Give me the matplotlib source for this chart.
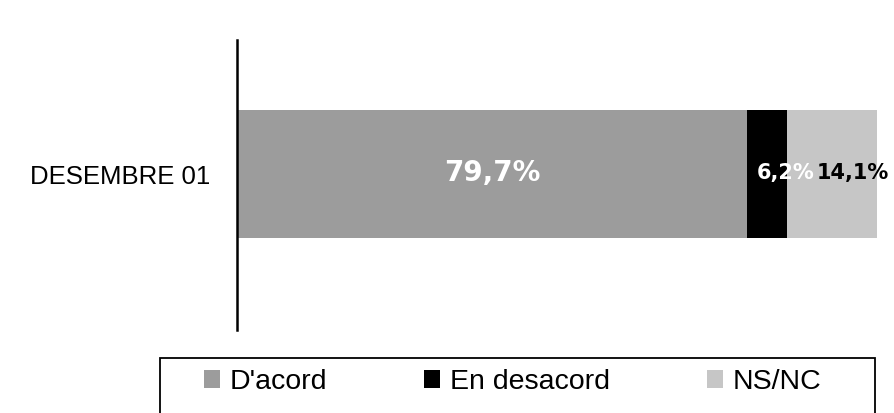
import matplotlib
matplotlib.use("Agg")
import matplotlib.pyplot as plt
from matplotlib.patches import Rectangle

categories = ["DESEMBRE 01"]
series_names = ["D'acord", "En desacord", "NS/NC"]
values = [79.7, 6.2, 14.1]
value_labels = ["79,7%", "6,2%", "14,1%"]
colors = ["#9c9c9c", "#000000", "#c6c6c6"]

W, H = 894, 413
fig = plt.figure(figsize=(W / 100, H / 100), dpi=100)
plt.rcParams['font.family'] = ['Liberation Sans', 'DejaVu Sans']

ax = fig.add_axes([237 / W, 1 - 330 / H, 640 / W, 290 / H])
bar_h = 128 / 290
handles = []
left = 0
for name, v, c in zip(series_names, values, colors):
    b = ax.barh(0, v, left=left, height=bar_h, color=c, edgecolor='none', label=name)
    handles.append(b)
    left += v

ax.set_xlim(0, 100)
ax.set_ylim(-156 / 290, 134 / 290)
ax.set_yticks([0])
ax.set_yticklabels(categories, fontsize=18.5)
ax.tick_params(axis='y', length=0, pad=19)
ax.set_xticks([])
for s in ['top', 'right', 'bottom']:
    ax.spines[s].set_visible(False)
ax.spines['left'].set_linewidth(1.8)

# data labels
starts = [0, values[0], values[0] + values[1]]
lab_font = ['DejaVu Sans']
ax.annotate(value_labels[0], xy=(starts[0] + values[0] / 2, 0), xytext=(0, 1),
            textcoords='offset points', ha='center', va='center',
            color='white', fontsize=20, fontweight='bold', family=lab_font)
ax.annotate(value_labels[1], xy=(starts[1], 0), xytext=(7, 1),
            textcoords='offset points', ha='left', va='center',
            color='white', fontsize=15, fontweight='bold', family=lab_font)
ax.annotate(value_labels[2], xy=(starts[2] + values[2] / 2, 0), xytext=(15, 1),
            textcoords='offset points', ha='center', va='center',
            color='black', fontsize=15, fontweight='bold', family=lab_font)

leg = fig.legend(handles=handles, labels=series_names, ncol=3, frameon=False,
                 loc='center left', bbox_to_anchor=(204 / W, 1 - 382 / H),
                 borderpad=0, borderaxespad=0, fontsize=20.5,
                 handlelength=0.56, handleheight=0.56, handletextpad=0.35,
                 columnspacing=3.4)
fig.add_artist(Rectangle((160 / W, -0.05), 715 / W, (413 - 358) / H + 0.05,
                         transform=fig.transFigure, fill=False,
                         edgecolor='black', linewidth=1.3))

fig.savefig("out.png", dpi=100)
